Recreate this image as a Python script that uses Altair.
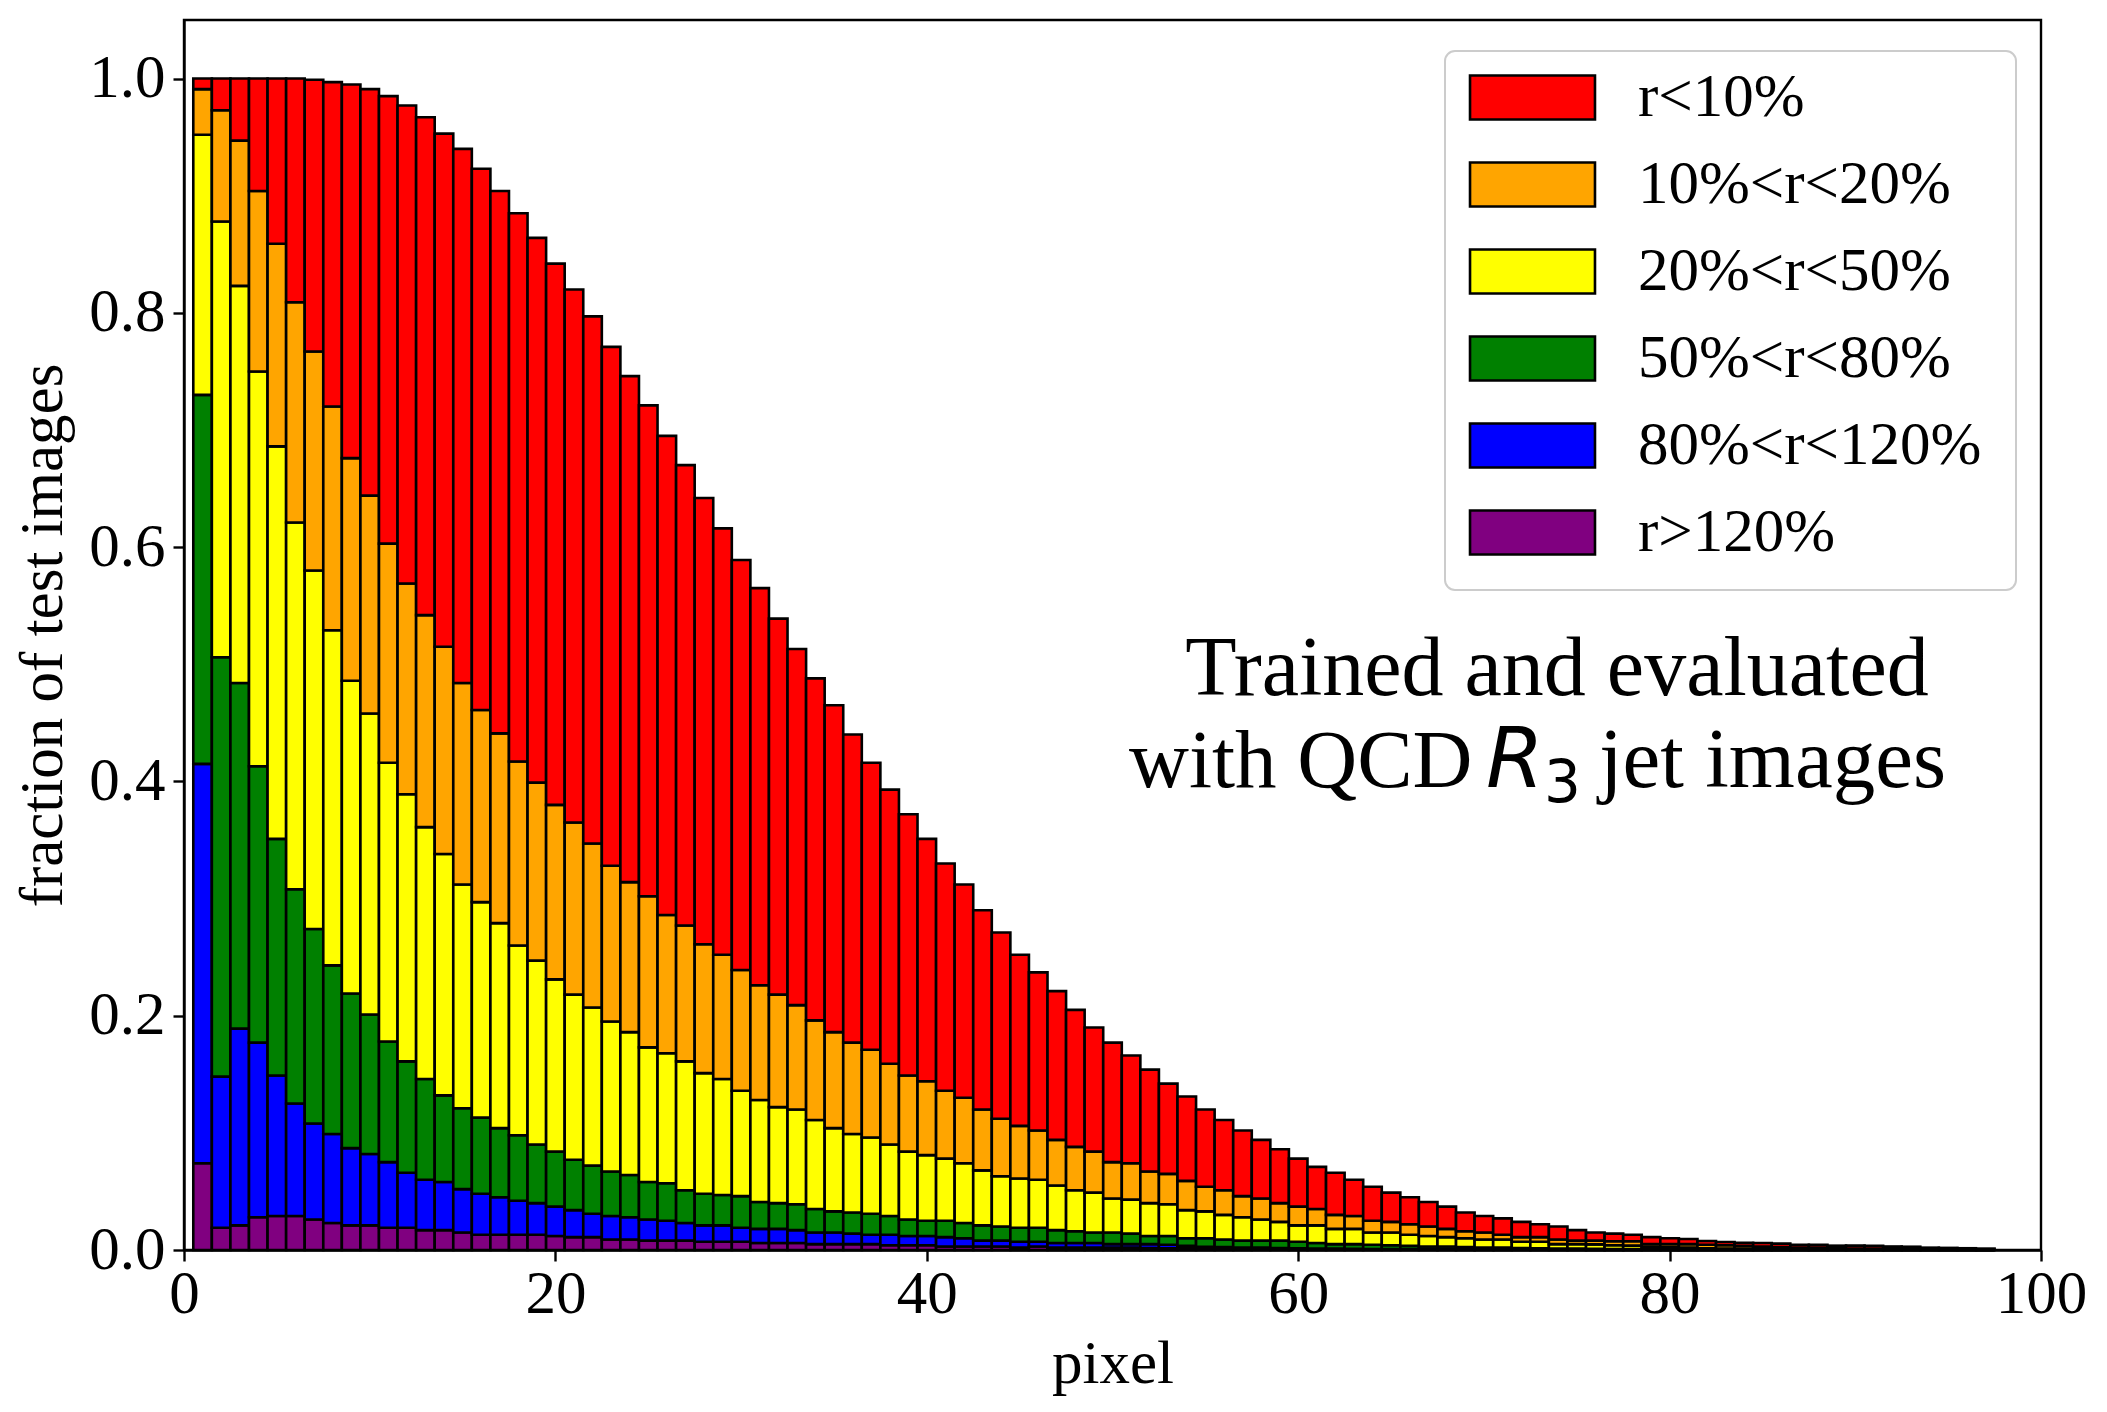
import altair as alt
import pandas as pd

# ---------------- data (cumulative tops of each stacked band, bins 1..97) ----------------
pixels = list(range(1, 98))

categories = ["r<10%", "10%<r<20%", "20%<r<50%", "50%<r<80%", "80%<r<120%", "r>120%"]
colors = ["#ff0000", "#ffa500", "#ffff00", "#008000", "#0000ff", "#800080"]

cum_red = [1.0, 1.0, 1.0, 1.0, 1.0, 1.0, 0.999, 0.997, 0.995, 0.991,
           0.985, 0.977, 0.967, 0.953, 0.940, 0.923, 0.904, 0.885, 0.864, 0.842,
           0.820, 0.797, 0.771, 0.746, 0.721, 0.695, 0.670, 0.642, 0.616, 0.589,
           0.565, 0.539, 0.513, 0.488, 0.465, 0.440, 0.416, 0.393, 0.372, 0.351,
           0.330, 0.312, 0.290, 0.271, 0.252, 0.237, 0.221, 0.205, 0.190, 0.177,
           0.166, 0.154, 0.142, 0.131, 0.120, 0.111, 0.102, 0.094, 0.086, 0.078,
           0.071, 0.066, 0.060, 0.054, 0.049, 0.045, 0.041, 0.037, 0.032, 0.029,
           0.027, 0.024, 0.022, 0.020, 0.017, 0.015, 0.014, 0.013, 0.011, 0.010,
           0.0094, 0.0077, 0.0068, 0.0062, 0.0060, 0.0054, 0.0045, 0.0045, 0.0037, 0.0037,
           0.0035, 0.0030, 0.0028, 0.0020, 0.0018, 0.0015, 0.0012]

cum_orange = [0.991, 0.973, 0.947, 0.904, 0.859, 0.809, 0.767, 0.720, 0.676, 0.644,
              0.603, 0.569, 0.542, 0.515, 0.484, 0.461, 0.441, 0.417, 0.399, 0.380,
              0.365, 0.347, 0.328, 0.314, 0.302, 0.286, 0.277, 0.261, 0.252, 0.239,
              0.226, 0.218, 0.209, 0.196, 0.186, 0.177, 0.171, 0.159, 0.149, 0.144,
              0.136, 0.130, 0.120, 0.112, 0.106, 0.102, 0.094, 0.088, 0.084, 0.075,
              0.074, 0.067, 0.065, 0.059, 0.054, 0.051, 0.046, 0.044, 0.040, 0.037,
              0.035, 0.030, 0.029, 0.025, 0.024, 0.022, 0.020, 0.018, 0.016, 0.015,
              0.013, 0.011, 0.011, 0.009, 0.008, 0.008, 0.0075, 0.0075, 0.005, 0.005,
              0.005, 0.0045, 0.004, 0.0035, 0.003, 0.0025, 0.002, 0.002, 0.0015, 0.0012,
              0.001, 0.0008, 0.0006, 0.0005, 0.0004, 0.0003, 0.0002]

cum_yellow = [0.952, 0.878, 0.823, 0.750, 0.686, 0.621, 0.580, 0.529, 0.486, 0.458,
              0.416, 0.389, 0.361, 0.338, 0.312, 0.297, 0.279, 0.260, 0.247, 0.231,
              0.218, 0.207, 0.195, 0.186, 0.173, 0.168, 0.161, 0.151, 0.146, 0.136,
              0.128, 0.122, 0.120, 0.111, 0.104, 0.099, 0.096, 0.090, 0.084, 0.081,
              0.078, 0.074, 0.068, 0.063, 0.061, 0.060, 0.055, 0.051, 0.049, 0.044,
              0.043, 0.040, 0.039, 0.034, 0.033, 0.030, 0.028, 0.026, 0.024, 0.021,
              0.021, 0.018, 0.018, 0.015, 0.015, 0.013, 0.012, 0.011, 0.010, 0.009,
              0.009, 0.007, 0.007, 0.005, 0.005, 0.0048, 0.004, 0.0037, 0.0025, 0.0022,
              0.002, 0.0015, 0.0013, 0.001, 0.0008, 0.0006, 0.0005, 0.0004, 0.0003, 0.0002,
              0.0002, 0.0001, 0.0001, 0.0001, 0.0, 0.0, 0.0]

cum_green = [0.730, 0.506, 0.484, 0.413, 0.351, 0.308, 0.274, 0.243, 0.219, 0.201,
             0.178, 0.161, 0.146, 0.132, 0.121, 0.113, 0.104, 0.098, 0.090, 0.084,
             0.077, 0.072, 0.067, 0.064, 0.058, 0.057, 0.051, 0.048, 0.047, 0.046,
             0.041, 0.040, 0.039, 0.035, 0.033, 0.032, 0.031, 0.029, 0.026, 0.025,
             0.025, 0.023, 0.021, 0.020, 0.019, 0.019, 0.017, 0.016, 0.015, 0.015,
             0.014, 0.012, 0.012, 0.010, 0.010, 0.009, 0.008, 0.008, 0.008, 0.007,
             0.006, 0.005, 0.005, 0.0045, 0.004, 0.0035, 0.003, 0.003, 0.0025, 0.002,
             0.002, 0.0017, 0.0015, 0.0013, 0.0012, 0.001, 0.0009, 0.0008, 0.0006, 0.0005,
             0.0004, 0.0003, 0.0003, 0.0002, 0.0002, 0.0001, 0.0001, 0.0001, 0.0, 0.0,
             0.0, 0.0, 0.0, 0.0, 0.0, 0.0, 0.0]

cum_blue = [0.415, 0.148, 0.189, 0.177, 0.149, 0.125, 0.108, 0.099, 0.087, 0.082,
            0.075, 0.066, 0.060, 0.058, 0.052, 0.048, 0.045, 0.042, 0.040, 0.037,
            0.034, 0.031, 0.029, 0.028, 0.026, 0.025, 0.023, 0.021, 0.021, 0.019,
            0.018, 0.018, 0.017, 0.015, 0.015, 0.014, 0.013, 0.013, 0.012, 0.012,
            0.011, 0.010, 0.008, 0.008, 0.007, 0.007, 0.006, 0.006, 0.006, 0.005,
            0.005, 0.005, 0.0045, 0.0035, 0.0028, 0.0025, 0.002, 0.002, 0.0017, 0.0015,
            0.0013, 0.0012, 0.001, 0.0009, 0.0008, 0.0007, 0.0006, 0.0005, 0.0004, 0.0004,
            0.0003, 0.0003, 0.0002, 0.0002, 0.0002, 0.0001, 0.0001, 0.0001, 0.0001, 0.0,
            0.0, 0.0, 0.0, 0.0, 0.0, 0.0, 0.0, 0.0, 0.0, 0.0,
            0.0, 0.0, 0.0, 0.0, 0.0, 0.0, 0.0]

cum_purple = [0.074, 0.019, 0.021, 0.028, 0.029, 0.029, 0.026, 0.023, 0.021, 0.021,
              0.019, 0.019, 0.017, 0.017, 0.015, 0.013, 0.013, 0.013, 0.013, 0.012,
              0.011, 0.011, 0.009, 0.009, 0.008, 0.008, 0.008, 0.007, 0.007, 0.007,
              0.006, 0.006, 0.006, 0.005, 0.005, 0.005, 0.005, 0.004, 0.004, 0.004,
              0.003, 0.003, 0.003, 0.003, 0.002, 0.003, 0.002, 0.002, 0.002, 0.002,
              0.002, 0.0017, 0.0015, 0.0013, 0.0012, 0.001, 0.001, 0.0009, 0.0008, 0.0007,
              0.0006, 0.0005, 0.0004, 0.0004, 0.0003, 0.0003, 0.0002, 0.0002, 0.0001, 0.0001,
              0.0, 0.0, 0.0, 0.0, 0.0, 0.0, 0.0, 0.0, 0.0, 0.0,
              0.0, 0.0, 0.0, 0.0, 0.0, 0.0, 0.0, 0.0, 0.0, 0.0,
              0.0, 0.0, 0.0, 0.0, 0.0, 0.0, 0.0]

x_ticks = [0, 20, 40, 60, 80, 100]
y_ticks = [0.0, 0.2, 0.4, 0.6, 0.8, 1.0]

# ---------------- build long table: each band spans [previous cumulative, own cumulative] ----------------
bands_bottom_up = [
    ("r>120%", None, cum_purple),
    ("80%<r<120%", cum_purple, cum_blue),
    ("50%<r<80%", cum_blue, cum_green),
    ("20%<r<50%", cum_green, cum_yellow),
    ("10%<r<20%", cum_yellow, cum_orange),
    ("r<10%", cum_orange, cum_red),
]
rows = []
for cat, lower, upper in bands_bottom_up:
    for k, p in enumerate(pixels):
        lo = 0.0 if lower is None else lower[k]
        hi = max(upper[k], lo)
        rows.append({"pixel": p, "x0": p - 0.5, "x1": p + 0.5,
                     "lo": lo, "hi": hi, "cat": cat})
df = pd.DataFrame(rows)

SERIF = "Liberation Serif"
W, H = 1857, 1230

# invisible spacer title below the legend entries: widens/pads the legend frame
legend_spacer = "\u2014" * 49

bars = alt.Chart(df).mark_bar(stroke="black", strokeWidth=2.6, opacity=1).encode(
    x=alt.X("x0:Q", scale=alt.Scale(domain=[0, 100], nice=False, zero=False),
            axis=alt.Axis(values=x_ticks, title="pixel", format="d")),
    x2="x1:Q",
    y=alt.Y("lo:Q", scale=alt.Scale(domain=[0, 1.05], nice=False),
            axis=alt.Axis(values=y_ticks, title="fraction of test images", format=".1f")),
    y2="hi:Q",
    color=alt.Color("cat:N",
                    scale=alt.Scale(domain=categories, range=colors),
                    legend=alt.Legend(
                        title=legend_spacer, titleOrient="bottom", titleFont=SERIF,
                        titleFontSize=11, titlePadding=0, titleOpacity=0,
                        titleLimit=3000,
                        orient="none", legendX=1261, legendY=31,
                        symbolType="M-2.84,-1H2.84V1H-2.84Z", symbolSize=1936,
                        symbolStrokeColor="black", symbolStrokeWidth=2.6,
                        symbolOpacity=1, symbolOffset=41,
                        labelFont=SERIF, labelFontSize=61, labelColor="black",
                        labelOffset=75,
                        fillColor="white", strokeColor="#cccccc",
                        cornerRadius=10, padding=16, labelLimit=600)),
    order=alt.Order("pixel:Q"),
)

line1 = alt.Chart(pd.DataFrame({"t": ["Trained and evaluated"]})).mark_text(
    font=SERIF, fontSize=84, align="center", baseline="alphabetic", color="black"
).encode(x=alt.value(1373), y=alt.value(675), text="t:N")

line2a = alt.Chart(pd.DataFrame({"t": ["with QCD"]})).mark_text(
    font=SERIF, fontSize=83, align="left", baseline="alphabetic", color="black"
).encode(x=alt.value(945), y=alt.value(767), text="t:N")

line2r = alt.Chart(pd.DataFrame({"t": ["R"]})).mark_text(
    font="DejaVu Sans", fontStyle="italic", fontSize=83, align="left",
    baseline="alphabetic", color="black"
).encode(x=alt.value(1302), y=alt.value(767), text="t:N")

line2s = alt.Chart(pd.DataFrame({"t": ["3"]})).mark_text(
    font="DejaVu Sans", fontSize=58, align="left", baseline="alphabetic", color="black"
).encode(x=alt.value(1360), y=alt.value(782), text="t:N")

line2b = alt.Chart(pd.DataFrame({"t": ["jet images"]})).mark_text(
    font=SERIF, fontSize=85, align="left", baseline="alphabetic", color="black"
).encode(x=alt.value(1415), y=alt.value(767), text="t:N")

chart = alt.layer(bars, line1, line2a, line2r, line2s, line2b).properties(
    width=W, height=H,
    autosize=alt.AutoSizeParams(type="none"),
    padding={"left": 176, "top": 12, "right": 56, "bottom": 152},
    background="white",
).configure_view(
    stroke="black", strokeWidth=2.4, fill="white"
).configure_axis(
    grid=False, domain=True, domainColor="black", domainWidth=2.4,
    ticks=True, tickColor="black", tickWidth=2.4, tickSize=11,
    labelFont=SERIF, labelFontSize=61, labelColor="black", labelPadding=8,
    titleFont=SERIF, titleFontSize=61, titleFontWeight="normal", titleColor="black",
    labelFlush=False,
).configure_axisX(
    titlePadding=10, labelPadding=3
).configure_axisY(
    titlePadding=14, labelPadding=8
).configure_legend(
    rowPadding=25, strokeWidth=2
)

chart.save("out.html", embed_options={"renderer": "svg", "actions": False})
